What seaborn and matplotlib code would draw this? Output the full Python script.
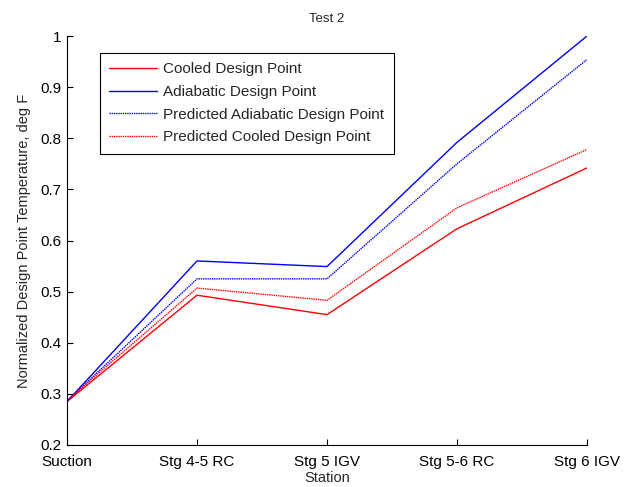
import matplotlib
matplotlib.use("Agg")
import matplotlib.pyplot as plt
import pandas as pd
import seaborn as sns

stations = ["Suction", "Stg 4-5 RC", "Stg 5 IGV", "Stg 5-6 RC", "Stg 6 IGV"]
cooled = [0.285, 0.493, 0.455, 0.623, 0.742]
adiabatic = [0.285, 0.560, 0.549, 0.792, 1.000]
pred_adiabatic = [0.286, 0.525, 0.525, 0.750, 0.954]
pred_cooled = [0.287, 0.507, 0.483, 0.664, 0.778]

series = {
    "Cooled Design Point": cooled,
    "Adiabatic Design Point": adiabatic,
    "Predicted Adiabatic Design Point": pred_adiabatic,
    "Predicted Cooled Design Point": pred_cooled,
}
rows = []
for name, vals in series.items():
    for i, v in enumerate(vals):
        rows.append({"pos": i, "value": v, "series": name})
df = pd.DataFrame(rows)

sns.set_style("ticks")
plt.rcParams["font.family"] = ["Liberation Sans", "DejaVu Sans"]
plt.rcParams["font.size"] = 11

fig = plt.figure(figsize=(6.36, 4.87), dpi=100)
ax = fig.add_axes([67 / 636, 1 - 445 / 487, 520 / 636, 409 / 487])

palette = {
    "Cooled Design Point": "#ff0000",
    "Adiabatic Design Point": "#0000ff",
    "Predicted Adiabatic Design Point": "#0000ff",
    "Predicted Cooled Design Point": "#ff0000",
}
styles = {
    "Cooled Design Point": "-",
    "Adiabatic Design Point": "-",
    "Predicted Adiabatic Design Point": (0, (1, 0.6)),
    "Predicted Cooled Design Point": (0, (1, 0.6)),
}
for name in series:
    sub = df[df["series"] == name]
    sns.lineplot(data=sub, x="pos", y="value", ax=ax, color=palette[name],
                 linestyle=styles[name], linewidth=1.0, label=name)

ax.set_xlim(0, 4)
ax.set_ylim(0.2, 1.0)
ax.set_xticks(range(len(stations)))
ax.set_xticklabels(stations)
ax.set_yticks([0.2, 0.3, 0.4, 0.5, 0.6, 0.7, 0.8, 0.9, 1.0])
ax.set_yticklabels(["0.2", "0.3", "0.4", "0.5", "0.6", "0.7", "0.8", "0.9", "1"])
ax.tick_params(direction="in", length=4, width=0.8, labelsize=11, colors="black")
ax.tick_params(axis="x", pad=7)
ax.tick_params(axis="y", pad=4)
ax.set_xlabel("Station", fontsize=10.5, labelpad=2)
ax.set_ylabel("Normalized Design Point Temperature, deg F", fontsize=10.5, labelpad=7)
ax.set_title("Test 2", fontsize=9.5, pad=10)
sns.despine(ax=ax)
for s in ["left", "bottom"]:
    ax.spines[s].set_color("black")
    ax.spines[s].set_linewidth(0.8)

leg = ax.legend(loc="upper left", bbox_to_anchor=(0.0635, 0.958), fontsize=11,
                handlelength=3.1, fancybox=False, framealpha=1, borderpad=0.6,
                labelspacing=0.57, handletextpad=0.45, borderaxespad=0)
leg.get_frame().set_edgecolor("black")
leg.get_frame().set_linewidth(0.8)

fig.savefig("out.png", dpi=100)
